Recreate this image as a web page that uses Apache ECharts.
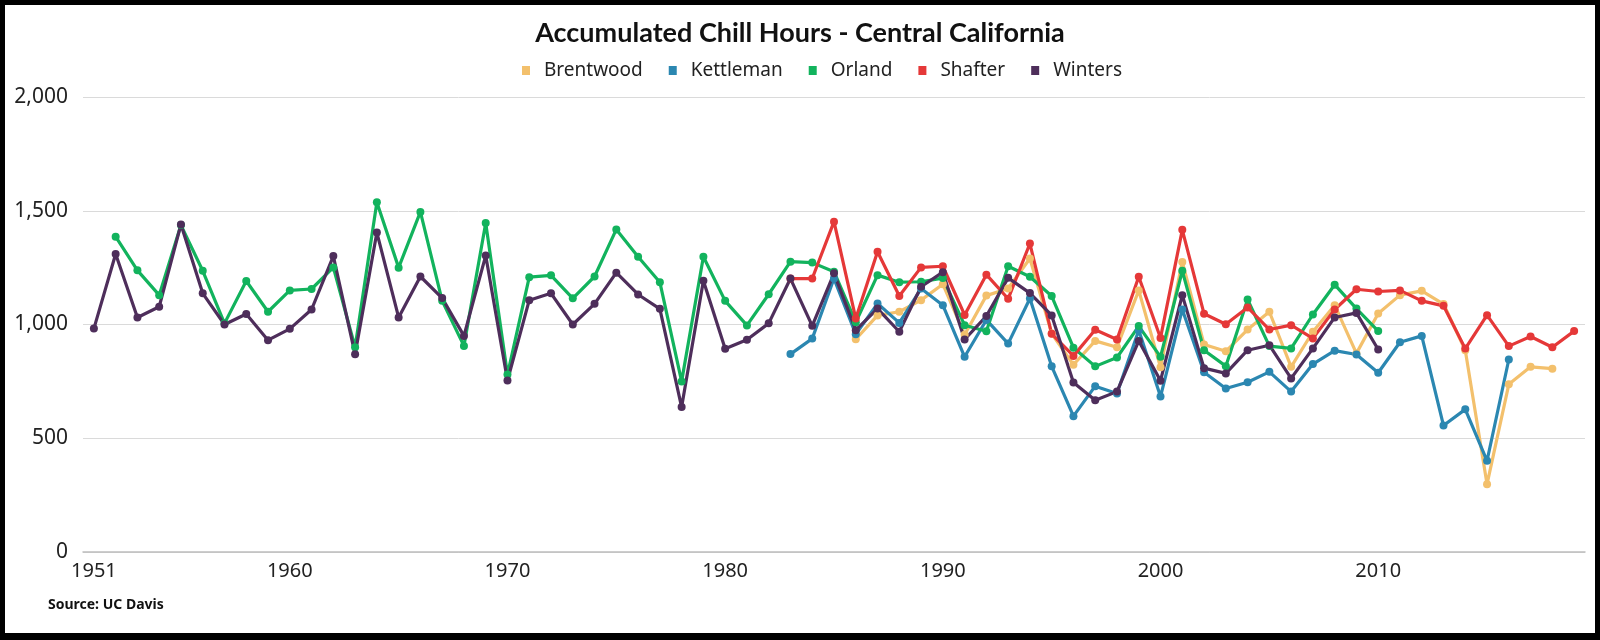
<!DOCTYPE html>
<html>
<head>
<meta charset="utf-8">
<script src="https://cdn.jsdelivr.net/npm/echarts@6/dist/echarts.min.js"></script>
<style>
  html, body { margin: 0; padding: 0; background: #fff; }
  #wrap { position: relative; width: 1600px; height: 640px; }
  #chart { position: absolute; left: 0; top: 0; width: 1600px; height: 640px; }
  #frame { position: absolute; left: 0; top: 0; width: 1600px; height: 640px; box-sizing: border-box;
           border-style: solid; border-color: #000; border-width: 5px 5px 7px 5px; pointer-events: none; }
</style>
</head>
<body>
<div id="wrap"><div id="chart"></div><div id="frame"></div></div>
<script>
// ---- data ----
const firstYear = 1951;
const lastYear = 2019;
const yTicks = [0, 500, 1000, 1500, 2000];

const brentwoodStart = 1986;
const brentwood = [935, 1040, 1056, 1107, 1177, 955, 1127, 1158, 1290, 960, 823, 928, 900, 1150, 812, 1275, 912, 882, 978, 1056, 814, 968, 1085, 873, 1048, 1129, 1148, 1090, 887, 298, 737, 814, 806];

const kettlemanStart = 1983;
const kettleman = [870, 938, 1202, 957, 1092, 1007, 1158, 1085, 858, 1020, 916, 1114, 816, 597, 729, 697, 975, 683, 1066, 790, 719, 746, 792, 705, 826, 885, 868, 788, 922, 950, 556, 627, 401, 846];

const orlandStart = 1952;
const orland = [1386, 1238, 1129, 1437, 1236, 1005, 1191, 1056, 1150, 1156, 1251, 900, 1537, 1250, 1495, 1104, 906, 1446, 780, 1208, 1216, 1115, 1211, 1418, 1298, 1186, 750, 1298, 1104, 996, 1133, 1276, 1272, 1232, 1010, 1217, 1186, 1188, 1204, 997, 970, 1256, 1210, 1125, 898, 816, 855, 993, 858, 1236, 887, 817, 1110, 905, 895, 1044, 1175, 1070, 971];

const shafterStart = 1983;
const shafter = [1202, 1202, 1452, 1026, 1320, 1125, 1251, 1256, 1042, 1219, 1113, 1356, 959, 862, 977, 934, 1210, 941, 1416, 1047, 1001, 1075, 978, 997, 939, 1066, 1155, 1145, 1150, 1104, 1082, 894, 1041, 905, 947, 900, 971];

const wintersStart = 1951;
const winters = [982, 1310, 1031, 1078, 1440, 1137, 1000, 1046, 931, 981, 1066, 1301, 869, 1404, 1031, 1211, 1116, 950, 1303, 754, 1107, 1137, 1000, 1091, 1228, 1132, 1069, 637, 1192, 893, 933, 1005, 1202, 994, 1225, 975, 1070, 968, 1166, 1230, 934, 1037, 1205, 1138, 1040, 745, 667, 705, 928, 753, 1129, 808, 785, 887, 909, 763, 895, 1031, 1051, 890];

// ---- build ----
const years = [];
for (let y = firstYear; y <= lastYear; y++) years.push(String(y));

function align(start, vals) {
  return years.map(function (yr) {
    const i = +yr - start;
    return (i >= 0 && i < vals.length) ? vals[i] : null;
  });
}

const colors = {
  Brentwood: '#f3c06c',
  Kettleman: '#2b87b1',
  Orland: '#12b35d',
  Shafter: '#e53838',
  Winters: '#4e2e5b'
};

function mk(name, start, vals) {
  return {
    name: name,
    type: 'line',
    data: align(start, vals),
    symbol: 'circle',
    symbolSize: 8,
    showSymbol: true,
    connectNulls: false,
    lineStyle: { width: 3.2, color: colors[name] },
    itemStyle: { color: colors[name] },
    emphasis: { disabled: true },
    animation: false
  };
}

const FONT = '"Noto Sans", "Open Sans", sans-serif';

const chart = echarts.init(document.getElementById('chart'), null, { renderer: 'canvas' });
chart.setOption({
  backgroundColor: '#ffffff',
  animation: false,
  title: {
    text: 'Accumulated Chill Hours - Central California',
    left: 'center',
    top: 15,
    textStyle: { fontFamily: 'Lato, sans-serif', fontWeight: 'bold', fontSize: 27, color: '#111' }
  },
  legend: {
    left: 517,
    top: 56,
    itemWidth: 8,
    itemHeight: 9,
    itemGap: 26,
    icon: 'rect',
    textStyle: { fontFamily: FONT, fontSize: 19, color: '#222', padding: [0, 0, 0, 9] },
    data: ['Brentwood', 'Kettleman', 'Orland', 'Shafter', 'Winters']
  },
  grid: { left: 83, right: 15, top: 97, bottom: 88, containLabel: false },
  xAxis: {
    type: 'category',
    data: years,
    boundaryGap: true,
    axisTick: { show: false },
    axisLine: { lineStyle: { color: '#bdbdbd', width: 1.5 } },
    axisLabel: {
      interval: function (index, value) { return index === 0 || (+value) % 10 === 0; },
      fontFamily: FONT, fontSize: 20, color: '#222', margin: 9
    },
    splitLine: { show: false }
  },
  yAxis: {
    type: 'value',
    min: yTicks[0],
    max: yTicks[yTicks.length - 1],
    interval: 500,
    axisLine: { show: false },
    axisTick: { show: false },
    axisLabel: {
      fontFamily: FONT, fontSize: 21, color: '#222', margin: 15,
      formatter: function (v) { return v.toLocaleString('en-US'); }
    },
    splitLine: { lineStyle: { color: '#dadada', width: 1 } }
  },
  graphic: [{
    type: 'text',
    left: 48,
    top: 598,
    style: { text: 'Source: UC Davis', font: 'bold 14px "Noto Sans", sans-serif', fill: '#111' }
  }],
  series: [
    mk('Brentwood', brentwoodStart, brentwood),
    mk('Kettleman', kettlemanStart, kettleman),
    mk('Orland', orlandStart, orland),
    mk('Shafter', shafterStart, shafter),
    mk('Winters', wintersStart, winters)
  ]
});
</script>
</body>
</html>
